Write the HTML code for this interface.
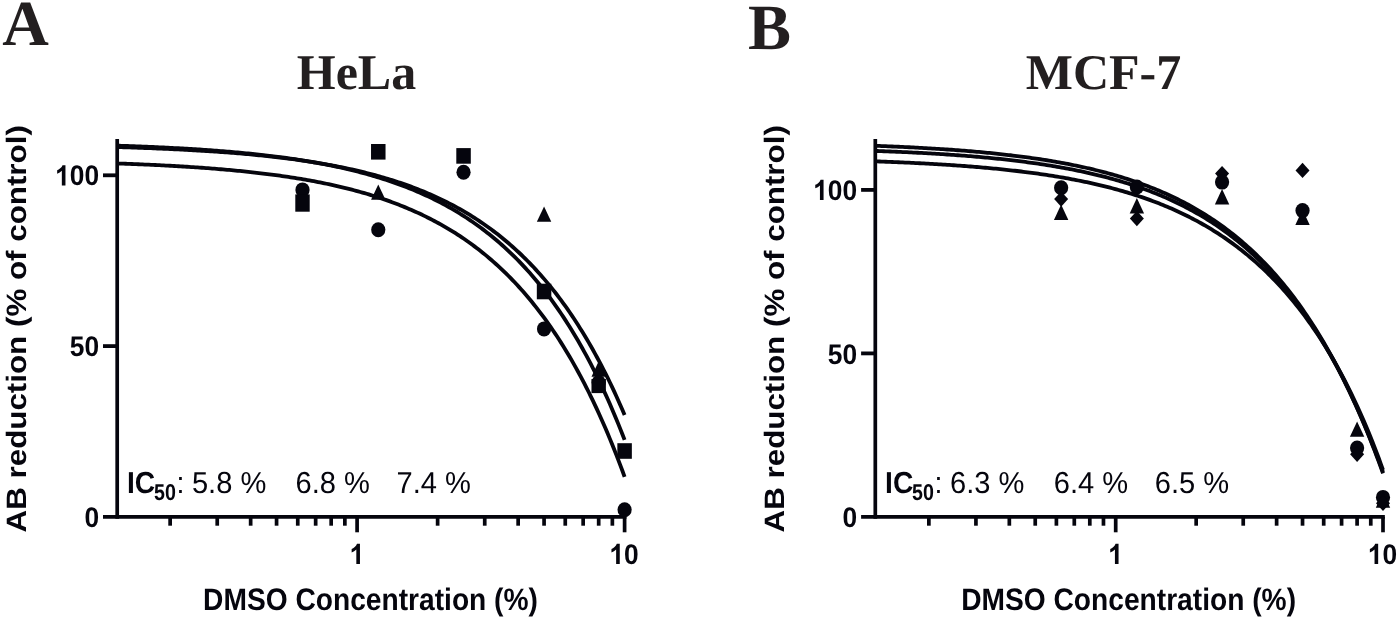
<!DOCTYPE html>
<html><head><meta charset="utf-8"><title>DMSO dose-response</title>
<style>html,body{margin:0;padding:0;background:#fff;}body{width:1400px;height:623px;overflow:hidden;font-family:"Liberation Sans",sans-serif;}svg{display:block;will-change:transform}</style>
</head><body>
<svg width="1400" height="623" viewBox="0 0 1400 623" text-rendering="geometricPrecision">
<rect width="1400" height="623" fill="#ffffff"/>
<path d="M117.20,163.46 L119.31,163.53 L121.43,163.61 L123.54,163.69 L125.66,163.76 L127.77,163.84 L129.88,163.92 L132.00,164.01 L134.11,164.09 L136.23,164.18 L138.34,164.26 L140.46,164.35 L142.57,164.44 L144.68,164.53 L146.80,164.63 L148.91,164.72 L151.03,164.82 L153.14,164.92 L155.25,165.02 L157.37,165.12 L159.48,165.22 L161.60,165.33 L163.71,165.44 L165.83,165.55 L167.94,165.66 L170.05,165.77 L172.17,165.89 L174.28,166.01 L176.40,166.13 L178.51,166.25 L180.63,166.37 L182.74,166.50 L184.85,166.63 L186.97,166.76 L189.08,166.90 L191.20,167.03 L193.31,167.17 L195.42,167.32 L197.54,167.46 L199.65,167.61 L201.77,167.76 L203.88,167.91 L206.00,168.06 L208.11,168.22 L210.22,168.38 L212.34,168.55 L214.45,168.72 L216.57,168.89 L218.68,169.06 L220.79,169.24 L222.91,169.41 L225.02,169.60 L227.14,169.78 L229.25,169.97 L231.37,170.17 L233.48,170.36 L235.59,170.56 L237.71,170.77 L239.82,170.98 L241.94,171.19 L244.05,171.40 L246.16,171.62 L248.28,171.85 L250.39,172.07 L252.51,172.31 L254.62,172.54 L256.74,172.78 L258.85,173.03 L260.96,173.28 L263.08,173.53 L265.19,173.79 L267.31,174.05 L269.42,174.32 L271.53,174.59 L273.65,174.87 L275.76,175.16 L277.88,175.44 L279.99,175.74 L282.11,176.04 L284.22,176.34 L286.33,176.65 L288.45,176.97 L290.56,177.29 L292.68,177.62 L294.79,177.95 L296.90,178.29 L299.02,178.64 L301.13,178.99 L303.25,179.35 L305.36,179.71 L307.48,180.09 L309.59,180.46 L311.70,180.85 L313.82,181.24 L315.93,181.64 L318.05,182.05 L320.16,182.47 L322.27,182.89 L324.39,183.32 L326.50,183.76 L328.62,184.20 L330.73,184.66 L332.85,185.12 L334.96,185.59 L337.07,186.07 L339.19,186.56 L341.30,187.06 L343.42,187.57 L345.53,188.08 L347.64,188.61 L349.76,189.15 L351.87,189.69 L353.99,190.25 L356.10,190.81 L358.22,191.39 L360.33,191.97 L362.44,192.57 L364.56,193.18 L366.67,193.80 L368.79,194.43 L370.90,195.07 L373.01,195.73 L375.13,196.39 L377.24,197.07 L379.36,197.76 L381.47,198.47 L383.59,199.18 L385.70,199.91 L387.81,200.66 L389.93,201.41 L392.04,202.18 L394.16,202.97 L396.27,203.77 L398.38,204.58 L400.50,205.41 L402.61,206.26 L404.73,207.12 L406.84,207.99 L408.95,208.88 L411.07,209.79 L413.18,210.72 L415.30,211.66 L417.41,212.62 L419.53,213.59 L421.64,214.59 L423.75,215.60 L425.87,216.63 L427.98,217.68 L430.10,218.75 L432.21,219.84 L434.33,220.95 L436.44,222.08 L438.55,223.23 L440.67,224.40 L442.78,225.59 L444.90,226.81 L447.01,228.05 L449.12,229.31 L451.24,230.59 L453.35,231.90 L455.47,233.23 L457.58,234.58 L459.70,235.96 L461.81,237.37 L463.92,238.80 L466.04,240.26 L468.15,241.74 L470.27,243.26 L472.38,244.80 L474.49,246.36 L476.61,247.96 L478.72,249.59 L480.84,251.24 L482.95,252.93 L485.06,254.65 L487.18,256.40 L489.29,258.18 L491.41,259.99 L493.52,261.84 L495.64,263.72 L497.75,265.64 L499.86,267.59 L501.98,269.58 L504.09,271.60 L506.21,273.66 L508.32,275.76 L510.44,277.90 L512.55,280.08 L514.66,282.30 L516.78,284.55 L518.89,286.85 L521.01,289.20 L523.12,291.58 L525.23,294.01 L527.35,296.49 L529.46,299.01 L531.58,301.57 L533.69,304.19 L535.81,306.85 L537.92,309.56 L540.03,312.32 L542.15,315.13 L544.26,317.99 L546.38,320.91 L548.49,323.88 L550.60,326.91 L552.72,329.99 L554.83,333.13 L556.95,336.32 L559.06,339.58 L561.18,342.89 L563.29,346.27 L565.40,349.71 L567.52,353.21 L569.63,356.78 L571.75,360.41 L573.86,364.11 L575.97,367.88 L578.09,371.72 L580.20,375.63 L582.32,379.61 L584.43,383.67 L586.54,387.80 L588.66,392.01 L590.77,396.29 L592.89,400.66 L595.00,405.10 L597.12,409.63 L599.23,414.25 L601.34,418.95 L603.46,423.73 L605.57,428.61 L607.69,433.58 L609.80,438.64 L611.91,443.79 L614.03,449.04 L616.14,454.39 L618.26,459.83 L620.37,465.38 L622.49,471.04 L624.60,476.80" fill="none" stroke="#05050d" stroke-width="3.8" stroke-linejoin="round"/>
<path d="M117.20,147.06 L119.31,147.12 L121.43,147.19 L123.54,147.25 L125.66,147.32 L127.77,147.39 L129.88,147.46 L132.00,147.53 L134.11,147.60 L136.23,147.67 L138.34,147.75 L140.46,147.82 L142.57,147.90 L144.68,147.98 L146.80,148.06 L148.91,148.14 L151.03,148.22 L153.14,148.30 L155.25,148.39 L157.37,148.48 L159.48,148.57 L161.60,148.66 L163.71,148.75 L165.83,148.84 L167.94,148.94 L170.05,149.04 L172.17,149.14 L174.28,149.24 L176.40,149.34 L178.51,149.44 L180.63,149.55 L182.74,149.66 L184.85,149.77 L186.97,149.88 L189.08,150.00 L191.20,150.11 L193.31,150.23 L195.42,150.35 L197.54,150.48 L199.65,150.60 L201.77,150.73 L203.88,150.86 L206.00,150.99 L208.11,151.13 L210.22,151.27 L212.34,151.41 L214.45,151.55 L216.57,151.70 L218.68,151.84 L220.79,151.99 L222.91,152.15 L225.02,152.30 L227.14,152.46 L229.25,152.63 L231.37,152.79 L233.48,152.96 L235.59,153.13 L237.71,153.30 L239.82,153.48 L241.94,153.66 L244.05,153.85 L246.16,154.04 L248.28,154.23 L250.39,154.42 L252.51,154.62 L254.62,154.82 L256.74,155.03 L258.85,155.24 L260.96,155.45 L263.08,155.67 L265.19,155.89 L267.31,156.11 L269.42,156.34 L271.53,156.57 L273.65,156.81 L275.76,157.05 L277.88,157.30 L279.99,157.55 L282.11,157.81 L284.22,158.07 L286.33,158.33 L288.45,158.60 L290.56,158.88 L292.68,159.16 L294.79,159.44 L296.90,159.73 L299.02,160.03 L301.13,160.33 L303.25,160.64 L305.36,160.95 L307.48,161.27 L309.59,161.59 L311.70,161.92 L313.82,162.25 L315.93,162.60 L318.05,162.95 L320.16,163.30 L322.27,163.66 L324.39,164.03 L326.50,164.40 L328.62,164.78 L330.73,165.17 L332.85,165.57 L334.96,165.97 L337.07,166.38 L339.19,166.80 L341.30,167.23 L343.42,167.66 L345.53,168.10 L347.64,168.55 L349.76,169.01 L351.87,169.47 L353.99,169.95 L356.10,170.43 L358.22,170.92 L360.33,171.42 L362.44,171.93 L364.56,172.45 L366.67,172.98 L368.79,173.52 L370.90,174.07 L373.01,174.63 L375.13,175.20 L377.24,175.78 L379.36,176.37 L381.47,176.97 L383.59,177.58 L385.70,178.21 L387.81,178.84 L389.93,179.49 L392.04,180.15 L394.16,180.82 L396.27,181.50 L398.38,182.20 L400.50,182.91 L402.61,183.63 L404.73,184.36 L406.84,185.11 L408.95,185.87 L411.07,186.65 L413.18,187.44 L415.30,188.24 L417.41,189.06 L419.53,189.90 L421.64,190.74 L423.75,191.61 L425.87,192.49 L427.98,193.39 L430.10,194.30 L432.21,195.23 L434.33,196.18 L436.44,197.15 L438.55,198.13 L440.67,199.13 L442.78,200.15 L444.90,201.19 L447.01,202.25 L449.12,203.32 L451.24,204.42 L453.35,205.54 L455.47,206.67 L457.58,207.83 L459.70,209.01 L461.81,210.21 L463.92,211.44 L466.04,212.68 L468.15,213.95 L470.27,215.24 L472.38,216.56 L474.49,217.90 L476.61,219.26 L478.72,220.65 L480.84,222.07 L482.95,223.51 L485.06,224.98 L487.18,226.47 L489.29,228.00 L491.41,229.55 L493.52,231.12 L495.64,232.73 L497.75,234.37 L499.86,236.04 L501.98,237.74 L504.09,239.47 L506.21,241.23 L508.32,243.02 L510.44,244.85 L512.55,246.71 L514.66,248.61 L516.78,250.54 L518.89,252.50 L521.01,254.50 L523.12,256.54 L525.23,258.62 L527.35,260.73 L529.46,262.89 L531.58,265.08 L533.69,267.31 L535.81,269.59 L537.92,271.91 L540.03,274.27 L542.15,276.67 L544.26,279.12 L546.38,281.61 L548.49,284.15 L550.60,286.74 L552.72,289.37 L554.83,292.05 L556.95,294.78 L559.06,297.57 L561.18,300.40 L563.29,303.29 L565.40,306.23 L567.52,309.22 L569.63,312.27 L571.75,315.38 L573.86,318.54 L575.97,321.76 L578.09,325.05 L580.20,328.39 L582.32,331.79 L584.43,335.26 L586.54,338.80 L588.66,342.40 L590.77,346.06 L592.89,349.79 L595.00,353.60 L597.12,357.47 L599.23,361.42 L601.34,365.44 L603.46,369.53 L605.57,373.70 L607.69,377.95 L609.80,382.28 L611.91,386.69 L614.03,391.18 L616.14,395.76 L618.26,400.42 L620.37,405.17 L622.49,410.00 L624.60,414.93" fill="none" stroke="#05050d" stroke-width="3.8" stroke-linejoin="round"/>
<path d="M117.20,145.64 L119.31,145.71 L121.43,145.78 L123.54,145.86 L125.66,145.93 L127.77,146.00 L129.88,146.08 L132.00,146.15 L134.11,146.23 L136.23,146.31 L138.34,146.39 L140.46,146.48 L142.57,146.56 L144.68,146.65 L146.80,146.73 L148.91,146.82 L151.03,146.91 L153.14,147.01 L155.25,147.10 L157.37,147.20 L159.48,147.29 L161.60,147.39 L163.71,147.49 L165.83,147.60 L167.94,147.70 L170.05,147.81 L172.17,147.92 L174.28,148.03 L176.40,148.14 L178.51,148.25 L180.63,148.37 L182.74,148.49 L184.85,148.61 L186.97,148.73 L189.08,148.86 L191.20,148.99 L193.31,149.12 L195.42,149.25 L197.54,149.39 L199.65,149.52 L201.77,149.66 L203.88,149.81 L206.00,149.95 L208.11,150.10 L210.22,150.25 L212.34,150.40 L214.45,150.56 L216.57,150.72 L218.68,150.88 L220.79,151.05 L222.91,151.22 L225.02,151.39 L227.14,151.56 L229.25,151.74 L231.37,151.92 L233.48,152.10 L235.59,152.29 L237.71,152.48 L239.82,152.68 L241.94,152.87 L244.05,153.08 L246.16,153.28 L248.28,153.49 L250.39,153.70 L252.51,153.92 L254.62,154.14 L256.74,154.37 L258.85,154.60 L260.96,154.83 L263.08,155.07 L265.19,155.31 L267.31,155.56 L269.42,155.81 L271.53,156.06 L273.65,156.32 L275.76,156.59 L277.88,156.86 L279.99,157.13 L282.11,157.41 L284.22,157.70 L286.33,157.99 L288.45,158.28 L290.56,158.58 L292.68,158.89 L294.79,159.20 L296.90,159.52 L299.02,159.84 L301.13,160.17 L303.25,160.51 L305.36,160.85 L307.48,161.20 L309.59,161.55 L311.70,161.92 L313.82,162.28 L315.93,162.66 L318.05,163.04 L320.16,163.43 L322.27,163.82 L324.39,164.23 L326.50,164.64 L328.62,165.05 L330.73,165.48 L332.85,165.91 L334.96,166.35 L337.07,166.80 L339.19,167.26 L341.30,167.73 L343.42,168.20 L345.53,168.68 L347.64,169.18 L349.76,169.68 L351.87,170.19 L353.99,170.71 L356.10,171.24 L358.22,171.78 L360.33,172.32 L362.44,172.88 L364.56,173.45 L366.67,174.03 L368.79,174.62 L370.90,175.22 L373.01,175.84 L375.13,176.46 L377.24,177.09 L379.36,177.74 L381.47,178.40 L383.59,179.07 L385.70,179.75 L387.81,180.45 L389.93,181.16 L392.04,181.88 L394.16,182.61 L396.27,183.36 L398.38,184.12 L400.50,184.90 L402.61,185.69 L404.73,186.49 L406.84,187.31 L408.95,188.15 L411.07,189.00 L413.18,189.86 L415.30,190.74 L417.41,191.64 L419.53,192.55 L421.64,193.49 L423.75,194.43 L425.87,195.40 L427.98,196.38 L430.10,197.38 L432.21,198.40 L434.33,199.44 L436.44,200.50 L438.55,201.58 L440.67,202.67 L442.78,203.79 L444.90,204.93 L447.01,206.08 L449.12,207.26 L451.24,208.47 L453.35,209.69 L455.47,210.94 L457.58,212.20 L459.70,213.50 L461.81,214.81 L463.92,216.15 L466.04,217.52 L468.15,218.91 L470.27,220.32 L472.38,221.77 L474.49,223.23 L476.61,224.73 L478.72,226.25 L480.84,227.80 L482.95,229.38 L485.06,230.99 L487.18,232.63 L489.29,234.30 L491.41,236.00 L493.52,237.73 L495.64,239.49 L497.75,241.29 L499.86,243.12 L501.98,244.98 L504.09,246.87 L506.21,248.81 L508.32,250.77 L510.44,252.78 L512.55,254.82 L514.66,256.90 L516.78,259.01 L518.89,261.17 L521.01,263.36 L523.12,265.60 L525.23,267.88 L527.35,270.20 L529.46,272.56 L531.58,274.96 L533.69,277.42 L535.81,279.91 L537.92,282.45 L540.03,285.04 L542.15,287.68 L544.26,290.37 L546.38,293.11 L548.49,295.89 L550.60,298.73 L552.72,301.62 L554.83,304.57 L556.95,307.57 L559.06,310.63 L561.18,313.74 L563.29,316.91 L565.40,320.14 L567.52,323.43 L569.63,326.78 L571.75,330.20 L573.86,333.67 L575.97,337.22 L578.09,340.83 L580.20,344.50 L582.32,348.25 L584.43,352.06 L586.54,355.95 L588.66,359.91 L590.77,363.95 L592.89,368.06 L595.00,372.24 L597.12,376.51 L599.23,380.86 L601.34,385.29 L603.46,389.80 L605.57,394.40 L607.69,399.08 L609.80,403.85 L611.91,408.72 L614.03,413.67 L616.14,418.72 L618.26,423.87 L620.37,429.11 L622.49,434.46 L624.60,439.90" fill="none" stroke="#05050d" stroke-width="3.8" stroke-linejoin="round"/>
<line x1="117.2" y1="139.0" x2="117.2" y2="518.75" stroke="#05050d" stroke-width="3.7"/>
<line x1="103.0" y1="516.9" x2="626.45" y2="516.9" stroke="#05050d" stroke-width="3.9"/>
<line x1="103.0" y1="346.10" x2="117.2" y2="346.10" stroke="#05050d" stroke-width="3.8"/>
<line x1="103.0" y1="175.30" x2="117.2" y2="175.30" stroke="#05050d" stroke-width="3.8"/>
<line x1="170.13" y1="516.9" x2="170.13" y2="525.6999999999999" stroke="#05050d" stroke-width="3.7"/>
<line x1="217.23" y1="516.9" x2="217.23" y2="525.6999999999999" stroke="#05050d" stroke-width="3.7"/>
<line x1="250.65" y1="516.9" x2="250.65" y2="525.6999999999999" stroke="#05050d" stroke-width="3.7"/>
<line x1="276.57" y1="516.9" x2="276.57" y2="525.6999999999999" stroke="#05050d" stroke-width="3.7"/>
<line x1="297.76" y1="516.9" x2="297.76" y2="525.6999999999999" stroke="#05050d" stroke-width="3.7"/>
<line x1="315.66" y1="516.9" x2="315.66" y2="525.6999999999999" stroke="#05050d" stroke-width="3.7"/>
<line x1="331.18" y1="516.9" x2="331.18" y2="525.6999999999999" stroke="#05050d" stroke-width="3.7"/>
<line x1="344.86" y1="516.9" x2="344.86" y2="525.6999999999999" stroke="#05050d" stroke-width="3.7"/>
<line x1="437.63" y1="516.9" x2="437.63" y2="525.6999999999999" stroke="#05050d" stroke-width="3.7"/>
<line x1="484.73" y1="516.9" x2="484.73" y2="525.6999999999999" stroke="#05050d" stroke-width="3.7"/>
<line x1="518.15" y1="516.9" x2="518.15" y2="525.6999999999999" stroke="#05050d" stroke-width="3.7"/>
<line x1="544.07" y1="516.9" x2="544.07" y2="525.6999999999999" stroke="#05050d" stroke-width="3.7"/>
<line x1="565.26" y1="516.9" x2="565.26" y2="525.6999999999999" stroke="#05050d" stroke-width="3.7"/>
<line x1="583.16" y1="516.9" x2="583.16" y2="525.6999999999999" stroke="#05050d" stroke-width="3.7"/>
<line x1="598.68" y1="516.9" x2="598.68" y2="525.6999999999999" stroke="#05050d" stroke-width="3.7"/>
<line x1="612.36" y1="516.9" x2="612.36" y2="525.6999999999999" stroke="#05050d" stroke-width="3.7"/>
<line x1="357.10" y1="516.9" x2="357.10" y2="532.3" stroke="#05050d" stroke-width="3.7"/>
<line x1="624.60" y1="516.9" x2="624.60" y2="532.3" stroke="#05050d" stroke-width="3.7"/>
<ellipse cx="302.50" cy="189.9" rx="7.1" ry="7.5" fill="#05050d"/>
<rect x="295.30" y="194.4" width="14.4" height="17.299999999999983" fill="#05050d"/>
<rect x="371.03" y="144.0" width="14.5" height="15.6" fill="#05050d"/>
<path d="M378.28,184.4 L385.48,199.79999999999998 L371.08,199.79999999999998Z" fill="#05050d"/>
<ellipse cx="378.28" cy="229.7" rx="7.1" ry="7.5" fill="#05050d"/>
<rect x="456.30" y="148.1" width="14.5" height="15.6" fill="#05050d"/>
<ellipse cx="463.55" cy="172.2" rx="7.1" ry="7.5" fill="#05050d"/>
<path d="M544.07,206.4 L551.27,221.79999999999998 L536.87,221.79999999999998Z" fill="#05050d"/>
<rect x="536.82" y="283.7" width="14.5" height="15.6" fill="#05050d"/>
<ellipse cx="544.07" cy="328.9" rx="7.1" ry="7.5" fill="#05050d"/>
<path d="M598.68,361.3 L605.88,376.7 L591.48,376.7Z" fill="#05050d"/>
<ellipse cx="598.68" cy="382.6" rx="7.1" ry="7.5" fill="#05050d"/>
<rect x="591.48" y="379.0" width="14.4" height="14.100000000000023" fill="#05050d"/>
<rect x="617.35" y="443.2" width="14.5" height="15.6" fill="#05050d"/>
<ellipse cx="624.60" cy="509.8" rx="7.1" ry="7.5" fill="#05050d"/>
<path d="M806 0H525V1059Q371 915 162 846V1101Q272 1137 401 1237.5T578 1472H806V0Z" fill="#05050d" transform="translate(55.08,185.40) scale(0.012875,-0.013770)"/>
<text font-family="Liberation Sans, sans-serif" font-weight="700" font-size="28.2" fill="#05050d" transform="translate(69.74,185.40) scale(0.935,1)">0</text>
<text font-family="Liberation Sans, sans-serif" font-weight="700" font-size="28.2" fill="#05050d" transform="translate(84.40,185.40) scale(0.935,1)">0</text>
<text font-family="Liberation Sans, sans-serif" font-weight="700" font-size="28.2" fill="#05050d" transform="translate(69.74,356.20) scale(0.935,1)">5</text>
<text font-family="Liberation Sans, sans-serif" font-weight="700" font-size="28.2" fill="#05050d" transform="translate(84.40,356.20) scale(0.935,1)">0</text>
<text font-family="Liberation Sans, sans-serif" font-weight="700" font-size="28.2" fill="#05050d" transform="translate(84.40,527.00) scale(0.935,1)">0</text>
<path d="M806 0H525V1059Q371 915 162 846V1101Q272 1137 401 1237.5T578 1472H806V0Z" fill="#05050d" transform="translate(349.57,564.10) scale(0.012875,-0.013770)"/>
<path d="M806 0H525V1059Q371 915 162 846V1101Q272 1137 401 1237.5T578 1472H806V0Z" fill="#05050d" transform="translate(609.38,564.10) scale(0.012875,-0.013770)"/>
<text font-family="Liberation Sans, sans-serif" font-weight="700" font-size="28.2" fill="#05050d" transform="translate(624.04,564.10) scale(0.935,1)">0</text>
<text font-family="Liberation Sans, sans-serif" font-weight="700" font-size="31" fill="#05050d" text-anchor="middle" transform="translate(370.50,610.2) scale(0.9085,1)">DMSO Concentration (%)</text>
<text font-family="Liberation Sans, sans-serif" font-weight="700" font-size="28" fill="#05050d" text-anchor="middle" transform="translate(25.6,328.8) rotate(-90) scale(1.119,1)">AB reduction (% of control)</text>
<text font-family="Liberation Sans, sans-serif" font-weight="700" font-size="30.3" fill="#05050d" transform="translate(127.00,493.4) scale(0.93,1)">IC</text>
<text font-family="Liberation Sans, sans-serif" font-weight="700" font-size="22.8" fill="#05050d" transform="translate(154.00,500.2) scale(0.86,1)">50</text>
<text font-family="Liberation Sans, sans-serif" font-size="30.3" fill="#05050d" transform="translate(176.50,493.4) scale(0.94,1)">:</text>
<text font-family="Liberation Sans, sans-serif" font-size="30.3" fill="#05050d" transform="translate(191.90,493.4) scale(0.96,1)">5.8 %</text>
<text font-family="Liberation Sans, sans-serif" font-size="30.3" fill="#05050d" transform="translate(295.60,493.4) scale(0.96,1)">6.8 %</text>
<text font-family="Liberation Sans, sans-serif" font-size="30.3" fill="#05050d" transform="translate(396.60,493.4) scale(0.96,1)">7.4 %</text>
<text font-family="Liberation Serif, serif" font-weight="700" font-size="50" fill="#231f20" text-anchor="middle" x="356.5" y="88.7">HeLa</text>
<text font-family="Liberation Serif, serif" font-weight="700" font-size="64.5" fill="#231f20" x="2.3" y="45.3">A</text>
<path d="M875.30,145.80 L877.42,145.88 L879.53,145.96 L881.65,146.04 L883.76,146.13 L885.88,146.21 L887.99,146.30 L890.11,146.39 L892.22,146.48 L894.34,146.57 L896.45,146.66 L898.57,146.75 L900.68,146.85 L902.80,146.95 L904.92,147.05 L907.03,147.15 L909.15,147.25 L911.26,147.36 L913.38,147.47 L915.49,147.58 L917.61,147.69 L919.72,147.80 L921.84,147.92 L923.95,148.03 L926.07,148.15 L928.19,148.28 L930.30,148.40 L932.42,148.53 L934.53,148.65 L936.65,148.79 L938.76,148.92 L940.88,149.06 L942.99,149.19 L945.11,149.34 L947.22,149.48 L949.34,149.63 L951.45,149.77 L953.57,149.93 L955.69,150.08 L957.80,150.24 L959.92,150.40 L962.03,150.56 L964.15,150.73 L966.26,150.90 L968.38,151.07 L970.49,151.24 L972.61,151.42 L974.72,151.61 L976.84,151.79 L978.96,151.98 L981.07,152.17 L983.19,152.37 L985.30,152.57 L987.42,152.77 L989.53,152.98 L991.65,153.19 L993.76,153.40 L995.88,153.62 L997.99,153.84 L1000.11,154.07 L1002.22,154.30 L1004.34,154.53 L1006.46,154.77 L1008.57,155.02 L1010.69,155.26 L1012.80,155.52 L1014.92,155.77 L1017.03,156.04 L1019.15,156.30 L1021.26,156.57 L1023.38,156.85 L1025.49,157.13 L1027.61,157.42 L1029.73,157.71 L1031.84,158.01 L1033.96,158.31 L1036.07,158.62 L1038.19,158.93 L1040.30,159.25 L1042.42,159.58 L1044.53,159.91 L1046.65,160.25 L1048.76,160.59 L1050.88,160.94 L1052.99,161.30 L1055.11,161.66 L1057.23,162.03 L1059.34,162.41 L1061.46,162.79 L1063.57,163.18 L1065.69,163.58 L1067.80,163.98 L1069.92,164.40 L1072.03,164.82 L1074.15,165.24 L1076.26,165.68 L1078.38,166.12 L1080.50,166.57 L1082.61,167.03 L1084.73,167.50 L1086.84,167.98 L1088.96,168.46 L1091.07,168.96 L1093.19,169.46 L1095.30,169.98 L1097.42,170.50 L1099.53,171.03 L1101.65,171.57 L1103.77,172.12 L1105.88,172.68 L1108.00,173.26 L1110.11,173.84 L1112.23,174.43 L1114.34,175.03 L1116.46,175.65 L1118.57,176.27 L1120.69,176.91 L1122.80,177.56 L1124.92,178.22 L1127.03,178.89 L1129.15,179.58 L1131.27,180.28 L1133.38,180.99 L1135.50,181.71 L1137.61,182.45 L1139.73,183.20 L1141.84,183.96 L1143.96,184.74 L1146.07,185.53 L1148.19,186.34 L1150.30,187.16 L1152.42,188.00 L1154.54,188.85 L1156.65,189.71 L1158.77,190.60 L1160.88,191.50 L1163.00,192.41 L1165.11,193.34 L1167.23,194.29 L1169.34,195.26 L1171.46,196.24 L1173.57,197.24 L1175.69,198.26 L1177.80,199.30 L1179.92,200.36 L1182.04,201.44 L1184.15,202.53 L1186.27,203.65 L1188.38,204.79 L1190.50,205.94 L1192.61,207.12 L1194.73,208.32 L1196.84,209.55 L1198.96,210.79 L1201.07,212.06 L1203.19,213.35 L1205.31,214.66 L1207.42,216.00 L1209.54,217.36 L1211.65,218.74 L1213.77,220.16 L1215.88,221.59 L1218.00,223.06 L1220.11,224.55 L1222.23,226.06 L1224.34,227.61 L1226.46,229.18 L1228.57,230.78 L1230.69,232.41 L1232.81,234.07 L1234.92,235.76 L1237.04,237.48 L1239.15,239.23 L1241.27,241.01 L1243.38,242.83 L1245.50,244.68 L1247.61,246.56 L1249.73,248.47 L1251.84,250.42 L1253.96,252.41 L1256.08,254.43 L1258.19,256.49 L1260.31,258.59 L1262.42,260.72 L1264.54,262.89 L1266.65,265.10 L1268.77,267.35 L1270.88,269.64 L1273.00,271.98 L1275.11,274.35 L1277.23,276.77 L1279.34,279.23 L1281.46,281.74 L1283.58,284.29 L1285.69,286.89 L1287.81,289.53 L1289.92,292.22 L1292.04,294.96 L1294.15,297.75 L1296.27,300.59 L1298.38,303.48 L1300.50,306.42 L1302.61,309.42 L1304.73,312.47 L1306.85,315.57 L1308.96,318.73 L1311.08,321.95 L1313.19,325.22 L1315.31,328.55 L1317.42,331.94 L1319.54,335.40 L1321.65,338.91 L1323.77,342.49 L1325.88,346.13 L1328.00,349.84 L1330.11,353.61 L1332.23,357.45 L1334.35,361.36 L1336.46,365.34 L1338.58,369.39 L1340.69,373.52 L1342.81,377.71 L1344.92,381.98 L1347.04,386.33 L1349.15,390.76 L1351.27,395.26 L1353.38,399.84 L1355.50,404.51 L1357.62,409.26 L1359.73,414.09 L1361.85,419.01 L1363.96,424.02 L1366.08,429.12 L1368.19,434.30 L1370.31,439.58 L1372.42,444.95 L1374.54,450.42 L1376.65,455.99 L1378.77,461.65 L1380.88,467.42 L1383.00,473.28" fill="none" stroke="#05050d" stroke-width="3.8" stroke-linejoin="round"/>
<path d="M875.30,150.91 L877.42,150.99 L879.53,151.06 L881.65,151.14 L883.76,151.23 L885.88,151.31 L887.99,151.39 L890.11,151.48 L892.22,151.57 L894.34,151.65 L896.45,151.75 L898.57,151.84 L900.68,151.93 L902.80,152.03 L904.92,152.12 L907.03,152.22 L909.15,152.33 L911.26,152.43 L913.38,152.53 L915.49,152.64 L917.61,152.75 L919.72,152.86 L921.84,152.97 L923.95,153.09 L926.07,153.20 L928.19,153.32 L930.30,153.44 L932.42,153.57 L934.53,153.69 L936.65,153.82 L938.76,153.95 L940.88,154.09 L942.99,154.22 L945.11,154.36 L947.22,154.50 L949.34,154.64 L951.45,154.79 L953.57,154.94 L955.69,155.09 L957.80,155.24 L959.92,155.40 L962.03,155.56 L964.15,155.72 L966.26,155.88 L968.38,156.05 L970.49,156.22 L972.61,156.40 L974.72,156.58 L976.84,156.76 L978.96,156.94 L981.07,157.13 L983.19,157.32 L985.30,157.52 L987.42,157.71 L989.53,157.92 L991.65,158.12 L993.76,158.33 L995.88,158.55 L997.99,158.76 L1000.11,158.98 L1002.22,159.21 L1004.34,159.44 L1006.46,159.67 L1008.57,159.91 L1010.69,160.15 L1012.80,160.40 L1014.92,160.65 L1017.03,160.91 L1019.15,161.17 L1021.26,161.43 L1023.38,161.70 L1025.49,161.98 L1027.61,162.26 L1029.73,162.54 L1031.84,162.83 L1033.96,163.13 L1036.07,163.43 L1038.19,163.74 L1040.30,164.05 L1042.42,164.37 L1044.53,164.69 L1046.65,165.02 L1048.76,165.36 L1050.88,165.70 L1052.99,166.05 L1055.11,166.40 L1057.23,166.77 L1059.34,167.13 L1061.46,167.51 L1063.57,167.89 L1065.69,168.28 L1067.80,168.67 L1069.92,169.08 L1072.03,169.49 L1074.15,169.91 L1076.26,170.33 L1078.38,170.77 L1080.50,171.21 L1082.61,171.66 L1084.73,172.11 L1086.84,172.58 L1088.96,173.05 L1091.07,173.54 L1093.19,174.03 L1095.30,174.53 L1097.42,175.04 L1099.53,175.56 L1101.65,176.09 L1103.77,176.63 L1105.88,177.18 L1108.00,177.74 L1110.11,178.31 L1112.23,178.89 L1114.34,179.48 L1116.46,180.08 L1118.57,180.69 L1120.69,181.31 L1122.80,181.95 L1124.92,182.59 L1127.03,183.25 L1129.15,183.92 L1131.27,184.60 L1133.38,185.30 L1135.50,186.00 L1137.61,186.72 L1139.73,187.46 L1141.84,188.21 L1143.96,188.97 L1146.07,189.74 L1148.19,190.53 L1150.30,191.33 L1152.42,192.15 L1154.54,192.98 L1156.65,193.83 L1158.77,194.69 L1160.88,195.57 L1163.00,196.47 L1165.11,197.38 L1167.23,198.31 L1169.34,199.25 L1171.46,200.22 L1173.57,201.20 L1175.69,202.19 L1177.80,203.21 L1179.92,204.24 L1182.04,205.30 L1184.15,206.37 L1186.27,207.46 L1188.38,208.57 L1190.50,209.71 L1192.61,210.86 L1194.73,212.03 L1196.84,213.23 L1198.96,214.45 L1201.07,215.69 L1203.19,216.95 L1205.31,218.23 L1207.42,219.54 L1209.54,220.87 L1211.65,222.23 L1213.77,223.61 L1215.88,225.02 L1218.00,226.45 L1220.11,227.91 L1222.23,229.39 L1224.34,230.91 L1226.46,232.44 L1228.57,234.01 L1230.69,235.61 L1232.81,237.23 L1234.92,238.89 L1237.04,240.57 L1239.15,242.28 L1241.27,244.03 L1243.38,245.81 L1245.50,247.62 L1247.61,249.46 L1249.73,251.34 L1251.84,253.25 L1253.96,255.19 L1256.08,257.17 L1258.19,259.19 L1260.31,261.24 L1262.42,263.33 L1264.54,265.46 L1266.65,267.62 L1268.77,269.83 L1270.88,272.07 L1273.00,274.36 L1275.11,276.69 L1277.23,279.06 L1279.34,281.47 L1281.46,283.93 L1283.58,286.43 L1285.69,288.97 L1287.81,291.56 L1289.92,294.20 L1292.04,296.89 L1294.15,299.62 L1296.27,302.41 L1298.38,305.24 L1300.50,308.13 L1302.61,311.06 L1304.73,314.05 L1306.85,317.10 L1308.96,320.20 L1311.08,323.35 L1313.19,326.56 L1315.31,329.83 L1317.42,333.16 L1319.54,336.55 L1321.65,340.00 L1323.77,343.51 L1325.88,347.09 L1328.00,350.73 L1330.11,354.43 L1332.23,358.20 L1334.35,362.04 L1336.46,365.95 L1338.58,369.93 L1340.69,373.98 L1342.81,378.10 L1344.92,382.30 L1347.04,386.57 L1349.15,390.92 L1351.27,395.34 L1353.38,399.85 L1355.50,404.44 L1357.62,409.11 L1359.73,413.86 L1361.85,418.70 L1363.96,423.62 L1366.08,428.64 L1368.19,433.74 L1370.31,438.93 L1372.42,444.22 L1374.54,449.60 L1376.65,455.08 L1378.77,460.66 L1380.88,466.33 L1383.00,472.11" fill="none" stroke="#05050d" stroke-width="3.8" stroke-linejoin="round"/>
<path d="M875.30,161.35 L877.42,161.43 L879.53,161.50 L881.65,161.58 L883.76,161.66 L885.88,161.74 L887.99,161.82 L890.11,161.90 L892.22,161.99 L894.34,162.07 L896.45,162.16 L898.57,162.25 L900.68,162.34 L902.80,162.43 L904.92,162.53 L907.03,162.62 L909.15,162.72 L911.26,162.82 L913.38,162.92 L915.49,163.03 L917.61,163.13 L919.72,163.24 L921.84,163.35 L923.95,163.46 L926.07,163.57 L928.19,163.69 L930.30,163.80 L932.42,163.92 L934.53,164.05 L936.65,164.17 L938.76,164.30 L940.88,164.42 L942.99,164.55 L945.11,164.69 L947.22,164.82 L949.34,164.96 L951.45,165.10 L953.57,165.25 L955.69,165.39 L957.80,165.54 L959.92,165.69 L962.03,165.85 L964.15,166.00 L966.26,166.16 L968.38,166.32 L970.49,166.49 L972.61,166.66 L974.72,166.83 L976.84,167.00 L978.96,167.18 L981.07,167.36 L983.19,167.55 L985.30,167.74 L987.42,167.93 L989.53,168.12 L991.65,168.32 L993.76,168.52 L995.88,168.73 L997.99,168.94 L1000.11,169.15 L1002.22,169.37 L1004.34,169.59 L1006.46,169.82 L1008.57,170.05 L1010.69,170.28 L1012.80,170.52 L1014.92,170.76 L1017.03,171.01 L1019.15,171.26 L1021.26,171.51 L1023.38,171.77 L1025.49,172.04 L1027.61,172.31 L1029.73,172.58 L1031.84,172.86 L1033.96,173.15 L1036.07,173.44 L1038.19,173.73 L1040.30,174.03 L1042.42,174.34 L1044.53,174.65 L1046.65,174.97 L1048.76,175.29 L1050.88,175.62 L1052.99,175.96 L1055.11,176.30 L1057.23,176.64 L1059.34,177.00 L1061.46,177.36 L1063.57,177.73 L1065.69,178.10 L1067.80,178.48 L1069.92,178.87 L1072.03,179.26 L1074.15,179.66 L1076.26,180.07 L1078.38,180.49 L1080.50,180.91 L1082.61,181.34 L1084.73,181.78 L1086.84,182.23 L1088.96,182.68 L1091.07,183.15 L1093.19,183.62 L1095.30,184.10 L1097.42,184.59 L1099.53,185.08 L1101.65,185.59 L1103.77,186.11 L1105.88,186.63 L1108.00,187.17 L1110.11,187.71 L1112.23,188.27 L1114.34,188.83 L1116.46,189.41 L1118.57,189.99 L1120.69,190.59 L1122.80,191.19 L1124.92,191.81 L1127.03,192.44 L1129.15,193.08 L1131.27,193.73 L1133.38,194.40 L1135.50,195.07 L1137.61,195.76 L1139.73,196.46 L1141.84,197.17 L1143.96,197.90 L1146.07,198.63 L1148.19,199.39 L1150.30,200.15 L1152.42,200.93 L1154.54,201.72 L1156.65,202.53 L1158.77,203.35 L1160.88,204.19 L1163.00,205.04 L1165.11,205.91 L1167.23,206.79 L1169.34,207.69 L1171.46,208.60 L1173.57,209.54 L1175.69,210.48 L1177.80,211.45 L1179.92,212.43 L1182.04,213.43 L1184.15,214.45 L1186.27,215.48 L1188.38,216.54 L1190.50,217.61 L1192.61,218.71 L1194.73,219.82 L1196.84,220.95 L1198.96,222.10 L1201.07,223.28 L1203.19,224.47 L1205.31,225.69 L1207.42,226.93 L1209.54,228.19 L1211.65,229.47 L1213.77,230.77 L1215.88,232.10 L1218.00,233.46 L1220.11,234.83 L1222.23,236.24 L1224.34,237.66 L1226.46,239.11 L1228.57,240.59 L1230.69,242.10 L1232.81,243.63 L1234.92,245.19 L1237.04,246.78 L1239.15,248.39 L1241.27,250.04 L1243.38,251.71 L1245.50,253.42 L1247.61,255.15 L1249.73,256.92 L1251.84,258.72 L1253.96,260.55 L1256.08,262.41 L1258.19,264.31 L1260.31,266.24 L1262.42,268.21 L1264.54,270.21 L1266.65,272.25 L1268.77,274.32 L1270.88,276.43 L1273.00,278.58 L1275.11,280.77 L1277.23,283.00 L1279.34,285.27 L1281.46,287.58 L1283.58,289.94 L1285.69,292.33 L1287.81,294.77 L1289.92,297.26 L1292.04,299.79 L1294.15,302.36 L1296.27,304.98 L1298.38,307.66 L1300.50,310.38 L1302.61,313.15 L1304.73,315.97 L1306.85,318.85 L1308.96,321.78 L1311.08,324.76 L1313.19,327.80 L1315.31,330.90 L1317.42,334.05 L1319.54,337.26 L1321.65,340.54 L1323.77,343.88 L1325.88,347.28 L1328.00,350.74 L1330.11,354.28 L1332.23,357.88 L1334.35,361.55 L1336.46,365.29 L1338.58,369.10 L1340.69,372.99 L1342.81,376.96 L1344.92,381.00 L1347.04,385.13 L1349.15,389.34 L1351.27,393.63 L1353.38,398.01 L1355.50,402.48 L1357.62,407.04 L1359.73,411.70 L1361.85,416.45 L1363.96,421.30 L1366.08,426.25 L1368.19,431.31 L1370.31,436.48 L1372.42,441.76 L1374.54,447.15 L1376.65,452.66 L1378.77,458.29 L1380.88,464.05 L1383.00,469.94" fill="none" stroke="#05050d" stroke-width="3.8" stroke-linejoin="round"/>
<line x1="875.3" y1="139.0" x2="875.3" y2="518.75" stroke="#05050d" stroke-width="3.7"/>
<line x1="861.0999999999999" y1="516.9" x2="1384.85" y2="516.9" stroke="#05050d" stroke-width="3.9"/>
<line x1="861.0999999999999" y1="353.40" x2="875.3" y2="353.40" stroke="#05050d" stroke-width="3.8"/>
<line x1="861.0999999999999" y1="189.90" x2="875.3" y2="189.90" stroke="#05050d" stroke-width="3.8"/>
<line x1="928.87" y1="516.9" x2="928.87" y2="525.6999999999999" stroke="#05050d" stroke-width="3.7"/>
<line x1="975.93" y1="516.9" x2="975.93" y2="525.6999999999999" stroke="#05050d" stroke-width="3.7"/>
<line x1="1009.33" y1="516.9" x2="1009.33" y2="525.6999999999999" stroke="#05050d" stroke-width="3.7"/>
<line x1="1035.23" y1="516.9" x2="1035.23" y2="525.6999999999999" stroke="#05050d" stroke-width="3.7"/>
<line x1="1056.40" y1="516.9" x2="1056.40" y2="525.6999999999999" stroke="#05050d" stroke-width="3.7"/>
<line x1="1074.29" y1="516.9" x2="1074.29" y2="525.6999999999999" stroke="#05050d" stroke-width="3.7"/>
<line x1="1089.80" y1="516.9" x2="1089.80" y2="525.6999999999999" stroke="#05050d" stroke-width="3.7"/>
<line x1="1103.47" y1="516.9" x2="1103.47" y2="525.6999999999999" stroke="#05050d" stroke-width="3.7"/>
<line x1="1196.17" y1="516.9" x2="1196.17" y2="525.6999999999999" stroke="#05050d" stroke-width="3.7"/>
<line x1="1243.23" y1="516.9" x2="1243.23" y2="525.6999999999999" stroke="#05050d" stroke-width="3.7"/>
<line x1="1276.63" y1="516.9" x2="1276.63" y2="525.6999999999999" stroke="#05050d" stroke-width="3.7"/>
<line x1="1302.53" y1="516.9" x2="1302.53" y2="525.6999999999999" stroke="#05050d" stroke-width="3.7"/>
<line x1="1323.70" y1="516.9" x2="1323.70" y2="525.6999999999999" stroke="#05050d" stroke-width="3.7"/>
<line x1="1341.59" y1="516.9" x2="1341.59" y2="525.6999999999999" stroke="#05050d" stroke-width="3.7"/>
<line x1="1357.10" y1="516.9" x2="1357.10" y2="525.6999999999999" stroke="#05050d" stroke-width="3.7"/>
<line x1="1370.77" y1="516.9" x2="1370.77" y2="525.6999999999999" stroke="#05050d" stroke-width="3.7"/>
<line x1="1115.70" y1="516.9" x2="1115.70" y2="532.3" stroke="#05050d" stroke-width="3.7"/>
<line x1="1383.00" y1="516.9" x2="1383.00" y2="532.3" stroke="#05050d" stroke-width="3.7"/>
<ellipse cx="1061.14" cy="187.8" rx="7.1" ry="7.5" fill="#05050d"/>
<path d="M1061.14,191.4 L1068.14,199.1 L1061.14,206.79999999999998 L1054.14,199.1Z" fill="#05050d"/>
<path d="M1061.14,204.60000000000002 L1068.34,220.0 L1053.94,220.0Z" fill="#05050d"/>
<ellipse cx="1136.87" cy="187.0" rx="7.1" ry="7.5" fill="#05050d"/>
<path d="M1136.87,198.10000000000002 L1144.07,213.5 L1129.67,213.5Z" fill="#05050d"/>
<path d="M1136.87,210.9 L1143.87,218.6 L1136.87,226.29999999999998 L1129.87,218.6Z" fill="#05050d"/>
<path d="M1222.07,165.9 L1229.07,173.6 L1222.07,181.29999999999998 L1215.07,173.6Z" fill="#05050d"/>
<ellipse cx="1222.07" cy="182.1" rx="7.1" ry="7.5" fill="#05050d"/>
<path d="M1222.07,189.10000000000002 L1229.27,204.5 L1214.87,204.5Z" fill="#05050d"/>
<path d="M1302.53,162.70000000000002 L1309.53,170.4 L1302.53,178.1 L1295.53,170.4Z" fill="#05050d"/>
<ellipse cx="1302.53" cy="210.6" rx="7.1" ry="7.5" fill="#05050d"/>
<path d="M1302.53,209.5 L1309.73,224.89999999999998 L1295.33,224.89999999999998Z" fill="#05050d"/>
<path d="M1357.10,421.40000000000003 L1364.30,436.8 L1349.90,436.8Z" fill="#05050d"/>
<ellipse cx="1357.10" cy="448.0" rx="7.1" ry="7.5" fill="#05050d"/>
<path d="M1357.10,446.6 L1364.10,454.3 L1357.10,462.0 L1350.10,454.3Z" fill="#05050d"/>
<ellipse cx="1383.00" cy="497.4" rx="7.1" ry="7.5" fill="#05050d"/>
<path d="M1383.00,492.3 L1390.20,507.7 L1375.80,507.7Z" fill="#05050d"/>
<path d="M1383.00,495.6 L1390.00,503.3 L1383.00,511.0 L1376.00,503.3Z" fill="#05050d"/>
<path d="M806 0H525V1059Q371 915 162 846V1101Q272 1137 401 1237.5T578 1472H806V0Z" fill="#05050d" transform="translate(813.18,200.00) scale(0.012875,-0.013770)"/>
<text font-family="Liberation Sans, sans-serif" font-weight="700" font-size="28.2" fill="#05050d" transform="translate(827.84,200.00) scale(0.935,1)">0</text>
<text font-family="Liberation Sans, sans-serif" font-weight="700" font-size="28.2" fill="#05050d" transform="translate(842.50,200.00) scale(0.935,1)">0</text>
<text font-family="Liberation Sans, sans-serif" font-weight="700" font-size="28.2" fill="#05050d" transform="translate(827.84,363.50) scale(0.935,1)">5</text>
<text font-family="Liberation Sans, sans-serif" font-weight="700" font-size="28.2" fill="#05050d" transform="translate(842.50,363.50) scale(0.935,1)">0</text>
<text font-family="Liberation Sans, sans-serif" font-weight="700" font-size="28.2" fill="#05050d" transform="translate(842.50,527.00) scale(0.935,1)">0</text>
<path d="M806 0H525V1059Q371 915 162 846V1101Q272 1137 401 1237.5T578 1472H806V0Z" fill="#05050d" transform="translate(1108.17,564.10) scale(0.012875,-0.013770)"/>
<path d="M806 0H525V1059Q371 915 162 846V1101Q272 1137 401 1237.5T578 1472H806V0Z" fill="#05050d" transform="translate(1367.78,564.10) scale(0.012875,-0.013770)"/>
<text font-family="Liberation Sans, sans-serif" font-weight="700" font-size="28.2" fill="#05050d" transform="translate(1382.44,564.10) scale(0.935,1)">0</text>
<text font-family="Liberation Sans, sans-serif" font-weight="700" font-size="31" fill="#05050d" text-anchor="middle" transform="translate(1128.60,610.2) scale(0.9085,1)">DMSO Concentration (%)</text>
<text font-family="Liberation Sans, sans-serif" font-weight="700" font-size="28" fill="#05050d" text-anchor="middle" transform="translate(783.7,328.8) rotate(-90) scale(1.119,1)">AB reduction (% of control)</text>
<text font-family="Liberation Sans, sans-serif" font-weight="700" font-size="30.3" fill="#05050d" transform="translate(885.10,493.4) scale(0.93,1)">IC</text>
<text font-family="Liberation Sans, sans-serif" font-weight="700" font-size="22.8" fill="#05050d" transform="translate(912.10,500.2) scale(0.86,1)">50</text>
<text font-family="Liberation Sans, sans-serif" font-size="30.3" fill="#05050d" transform="translate(934.60,493.4) scale(0.94,1)">:</text>
<text font-family="Liberation Sans, sans-serif" font-size="30.3" fill="#05050d" transform="translate(950.00,493.4) scale(0.96,1)">6.3 %</text>
<text font-family="Liberation Sans, sans-serif" font-size="30.3" fill="#05050d" transform="translate(1053.70,493.4) scale(0.96,1)">6.4 %</text>
<text font-family="Liberation Sans, sans-serif" font-size="30.3" fill="#05050d" transform="translate(1154.70,493.4) scale(0.96,1)">6.5 %</text>
<text font-family="Liberation Serif, serif" font-weight="700" font-size="50" fill="#231f20" text-anchor="middle" x="1103.5" y="88.7">MCF-7</text>
<text font-family="Liberation Serif, serif" font-weight="700" font-size="64.5" fill="#231f20" x="747.9" y="49.3">B</text>
</svg>
</body></html>
